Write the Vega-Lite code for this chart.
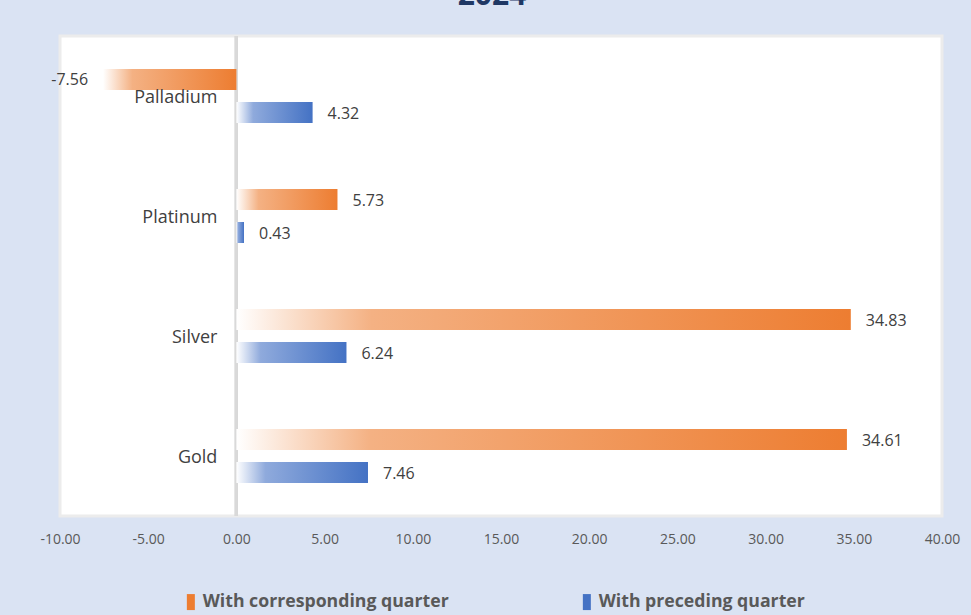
{
  "$schema": "https://vega.github.io/schema/vega-lite/v6.json",
  "autosize": {"type": "none"},
  "width": 882,
  "height": 480,
  "padding": {"left": 60, "top": 36, "right": 29, "bottom": 99},
  "background": "#dae3f3",
  "title": {
    "text": "2024",
    "font": "Open Sans",
    "fontSize": 30,
    "fontWeight": "bold",
    "color": "#1f3864",
    "baseline": "alphabetic",
    "offset": 0,
    "dx": -9
  },
  "config": {
    "view": {"fill": "white", "stroke": "#ececec", "strokeWidth": 3},
    "font": "Open Sans",
    "locale": {"number": {"decimal": ".", "thousands": ",", "grouping": [3], "currency": ["$", ""], "minus": "-"}}
  },
  "data": {
    "values": [
      {"metal": "Palladium", "series": "With corresponding quarter", "value": -7.56},
      {"metal": "Palladium", "series": "With preceding quarter", "value": 4.32},
      {"metal": "Platinum", "series": "With corresponding quarter", "value": 5.73},
      {"metal": "Platinum", "series": "With preceding quarter", "value": 0.43},
      {"metal": "Silver", "series": "With corresponding quarter", "value": 34.83},
      {"metal": "Silver", "series": "With preceding quarter", "value": 6.24},
      {"metal": "Gold", "series": "With corresponding quarter", "value": 34.61},
      {"metal": "Gold", "series": "With preceding quarter", "value": 7.46}
    ]
  },
  "encoding": {
    "y": {
      "field": "metal",
      "type": "nominal",
      "sort": ["Palladium", "Platinum", "Silver", "Gold"],
      "scale": {"paddingInner": 0, "paddingOuter": 0},
      "axis": null
    }
  },
  "layer": [
    {
      "mark": {"type": "rule", "color": "#d9d9d9", "strokeWidth": 3},
      "encoding": {"x": {"datum": 0, "type": "quantitative"}, "y": null}
    },
    {
      "transform": [{"filter": "datum.series == 'With corresponding quarter'"}],
      "mark": {
        "type": "bar",
        "fill": {
          "gradient": "linear",
          "x1": 0, "y1": 0, "x2": 1, "y2": 0,
          "stops": [
            {"offset": 0, "color": "#ffffff"},
            {"offset": 0.22, "color": "#f4b183"},
            {"offset": 1, "color": "#ed7d31"}
          ]
        }
      },
      "encoding": {
        "x": {
          "field": "value",
          "type": "quantitative",
          "scale": {"domain": [-10, 40], "nice": false, "zero": false},
          "axis": {
            "values": [-10, -5, 0, 5, 10, 15, 20, 25, 30, 35, 40],
            "format": ".2f",
            "title": null,
            "domain": false,
            "ticks": false,
            "grid": false,
            "labelFont": "Open Sans",
            "labelFontSize": 14,
            "labelColor": "#595959",
            "labelPadding": 16,
            "labelFlush": false
          }
        },
        "yOffset": {
          "field": "series",
          "type": "nominal",
          "scale": {"domain": ["With corresponding quarter", "With preceding quarter"], "paddingInner": 0.364, "paddingOuter": 1}
        }
      }
    },
    {
      "transform": [{"filter": "datum.series == 'With preceding quarter'"}],
      "mark": {
        "type": "bar",
        "fill": {
          "gradient": "linear",
          "x1": 0, "y1": 0, "x2": 1, "y2": 0,
          "stops": [
            {"offset": 0, "color": "#ffffff"},
            {"offset": 0.22, "color": "#8faadc"},
            {"offset": 1, "color": "#4472c4"}
          ]
        }
      },
      "encoding": {
        "x": {"field": "value", "type": "quantitative"},
        "yOffset": {"field": "series", "type": "nominal"}
      }
    },
    {
      "transform": [{"filter": "datum.value >= 0"}],
      "mark": {"type": "text", "align": "left", "baseline": "middle", "dx": 15, "dy": 1.5, "font": "Open Sans", "fontSize": 16, "color": "#404040"},
      "encoding": {
        "x": {"field": "value", "type": "quantitative"},
        "yOffset": {"field": "series", "type": "nominal"},
        "text": {"field": "value", "type": "quantitative", "format": ".2f"}
      }
    },
    {
      "transform": [{"filter": "datum.value < 0"}],
      "mark": {"type": "text", "align": "right", "baseline": "middle", "dx": -15, "dy": 1, "font": "Open Sans", "fontSize": 16, "color": "#404040"},
      "encoding": {
        "x": {"field": "value", "type": "quantitative"},
        "yOffset": {"field": "series", "type": "nominal"},
        "text": {"field": "value", "type": "quantitative", "format": ".2f"}
      }
    },
    {
      "transform": [{"filter": "datum.series == 'With corresponding quarter'"}],
      "mark": {"type": "text", "align": "right", "baseline": "middle", "dx": -19, "dy": 2, "font": "Open Sans", "fontSize": 18, "color": "#404040"},
      "encoding": {
        "x": {"datum": 0, "type": "quantitative"},
        "text": {"field": "metal", "type": "nominal"}
      }
    },
    {
      "mark": {"type": "point", "filled": true, "opacity": 0},
      "encoding": {
        "x": {"field": "value", "type": "quantitative"},
        "color": {
          "field": "series",
          "type": "nominal",
          "scale": {"domain": ["With corresponding quarter", "With preceding quarter"], "range": ["#ed7d31", "#4472c4"]},
          "legend": {
            "title": null,
            "orient": "none",
            "direction": "horizontal",
            "legendX": 122,
            "legendY": 557,
            "padding": 0,
            "columnPadding": 129,
            "symbolType": "M-0.5,-1H0.5V1H-0.5Z",
            "symbolSize": 256,
            "symbolOpacity": 1,
            "symbolStrokeWidth": 0,
            "labelFont": "Open Sans",
            "labelFontSize": 17.7,
            "labelFontWeight": "bold",
            "labelColor": "#595959",
            "labelOffset": 3,
            "labelLimit": 400
          }
        }
      }
    }
  ]
}
